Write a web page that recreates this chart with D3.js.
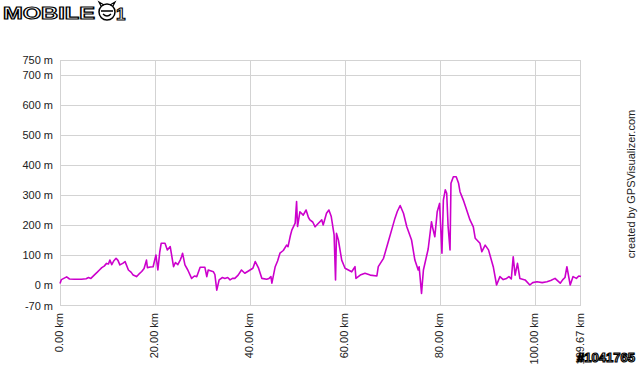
<!DOCTYPE html>
<html><head><meta charset="utf-8">
<script src="https://cdn.jsdelivr.net/npm/d3@7"></script>
<style>
html,body{margin:0;padding:0;background:#fff;}
svg{display:block;font-family:"Liberation Sans",Arial,sans-serif;}
</style></head>
<body><svg id="c" width="640" height="366"></svg>
<script>
const kmTicks = [0, 20, 40, 60, 80, 100, 109.67];
const elevTicks = [-70, 0, 100, 200, 300, 400, 500, 600, 700, 750];
const gridElev = [0, 100, 200, 300, 400, 500, 600, 700];
const gridKm = [20, 40, 60, 80, 100];
const distanceKm = [0,0.3,0.8,1.4,2.0,3.0,4.5,5.5,6.0,6.5,7.2,7.8,8.3,8.8,9.3,9.8,10.2,10.5,10.9,11.3,11.8,12.2,12.6,13.2,13.7,14.4,15.0,15.4,16.1,16.6,17.2,17.7,18.2,18.4,19.0,19.6,20.2,20.6,21.0,21.3,22.1,22.6,23.2,23.9,24.3,24.8,25.3,25.6,25.8,26.3,26.9,27.7,28.3,28.8,29.5,30.5,30.9,31.2,32.3,32.6,33.0,33.5,34.2,34.7,35.3,35.8,36.3,36.8,37.5,38.2,38.9,39.5,40.0,40.6,41.1,41.8,42.5,43.5,44.0,44.4,44.6,45.3,45.8,46.3,47.0,47.7,48.0,48.5,48.8,49.5,49.8,50.0,50.5,51.2,51.8,52.3,52.6,53.2,53.7,54.4,55.1,55.4,56.1,56.6,57.1,57.7,58.0,58.2,58.6,59.3,60.0,60.7,61.4,62.1,62.3,63.2,64.2,65.3,66.7,67.0,68.1,69.1,69.8,70.5,71.0,71.6,72.3,73.0,74.0,74.7,75.4,75.6,76.1,76.5,77.5,78.2,78.4,78.9,79.4,79.9,80.4,80.7,81.1,81.4,81.7,82.1,82.3,82.8,83.4,83.9,84.2,84.9,85.6,86.3,87.0,87.4,88.4,88.8,89.5,90.2,91.2,91.9,92.6,93.3,94.0,94.5,95.0,95.4,95.8,96.3,96.8,97.9,98.9,99.5,100.4,101.5,102.5,103.3,104.2,105.3,105.8,106.3,106.7,107.4,108.0,108.7,109.2,109.67];
const elevationM = [5,18,22,27,20,19,19,21,25,22,33,42,50,58,63,72,70,83,68,80,89,82,67,72,78,50,42,33,28,36,45,55,83,58,60,61,100,50,110,139,139,117,128,61,75,68,83,95,106,67,50,22,30,28,59,59,28,50,44,35,-17,17,25,22,25,17,22,22,33,50,39,45,50,56,78,56,22,19,22,28,6,61,80,106,115,133,128,165,183,206,278,195,244,233,250,225,217,210,194,206,217,200,239,250,228,167,17,172,150,83,56,50,44,61,22,33,39,33,30,61,89,144,183,222,245,265,239,194,150,83,50,61,-28,50,120,211,194,161,244,272,106,283,317,306,194,117,339,361,361,339,311,283,250,217,194,156,139,111,133,117,61,0,28,18,22,28,20,94,33,72,22,17,0,8,11,8,11,15,22,6,17,25,61,0,28,22,30,28];

const svg = d3.select("#c");
const x = d3.scaleLinear().domain([0, 109.67]).range([60, 581]);
const y = d3.scaleLinear().domain([-70, 750]).range([306, 60]);

// gridlines
svg.append("g").selectAll("line").data(gridElev).join("line")
  .attr("x1", 60).attr("x2", 581).attr("y1", d => y(d)).attr("y2", d => y(d))
  .attr("stroke", "#d3d3d3").attr("stroke-width", 1).attr("shape-rendering", "crispEdges");
svg.append("g").selectAll("line").data(gridKm).join("line")
  .attr("y1", 60).attr("y2", 306).attr("x1", d => Math.round(x(d)) + 0.5).attr("x2", d => Math.round(x(d)) + 0.5)
  .attr("stroke", "#d3d3d3").attr("stroke-width", 1);
svg.append("rect").attr("x", 60.5).attr("y", 60.5).attr("width", 520).attr("height", 245)
  .attr("fill", "none").attr("stroke", "#d3d3d3");

// axes
const ya = svg.append("g").attr("transform", "translate(60,0)")
  .call(d3.axisLeft(y).tickValues(elevTicks).tickSize(0).tickPadding(7).tickFormat(d => d + " m"));
ya.select(".domain").remove();
ya.selectAll("text").attr("font-size", 11).attr("fill", "#222").attr("font-family", "Liberation Sans, Arial");

const xa = svg.append("g").attr("transform", "translate(0,306)")
  .call(d3.axisBottom(x).tickValues(kmTicks).tickSize(0).tickFormat(d => d.toFixed(2) + " km"));
xa.select(".domain").remove();
xa.selectAll("text").attr("transform", "rotate(-90)").attr("text-anchor", "end")
  .attr("x", -7).attr("y", -1).attr("dy", "0.35em")
  .attr("font-size", 11).attr("fill", "#222").attr("font-family", "Liberation Sans, Arial");

// profile line
const pts = distanceKm.map((d, i) => [d, elevationM[i]]);
svg.append("path").datum(pts)
  .attr("d", d3.line().x(d => x(d[0])).y(d => y(d[1])))
  .attr("fill", "none").attr("stroke", "#cc00cc").attr("stroke-width", 1.6).attr("stroke-linejoin", "round");

// credit
svg.append("text").attr("transform", "translate(635,184) rotate(-90)").attr("text-anchor", "middle")
  .attr("font-size", 11).attr("fill", "#222").text("created by GPSVisualizer.com");

// logo
svg.append("text").attr("x", 3).attr("y", 19).attr("font-size", 17).attr("font-weight", "bold")
  .attr("textLength", 92).attr("lengthAdjust", "spacingAndGlyphs")
  .attr("fill", "#fff").attr("stroke", "#000").attr("stroke-width", 1.1).text("MOBILE");
svg.append("circle").attr("cx", 107).attr("cy", 12).attr("r", 8).attr("fill", "#fff").attr("stroke", "#000").attr("stroke-width", 1.5);
svg.append("path").attr("d", "M101,11 L113,11 M103,14 Q107,18 111,14").attr("fill", "none").attr("stroke", "#000").attr("stroke-width", 1.3);
svg.append("path").attr("d", "M101,6 L99,2 L104,5 M113,6 L115,2 L110,5").attr("fill", "none").attr("stroke", "#000").attr("stroke-width", 1.2);
svg.append("text").attr("x", 116).attr("y", 20).attr("font-size", 17).attr("font-weight", "bold")
  .attr("fill", "#fff").attr("stroke", "#000").attr("stroke-width", 1.1).text("1");

// watermark
svg.append("text").attr("x", 577).attr("y", 362).attr("font-size", 13).attr("font-weight", "bold")
  .attr("textLength", 58).attr("lengthAdjust", "spacingAndGlyphs")
  .attr("fill", "#fff").attr("stroke", "#000").attr("stroke-width", 1.2).text("#1041765");
</script></body></html>
